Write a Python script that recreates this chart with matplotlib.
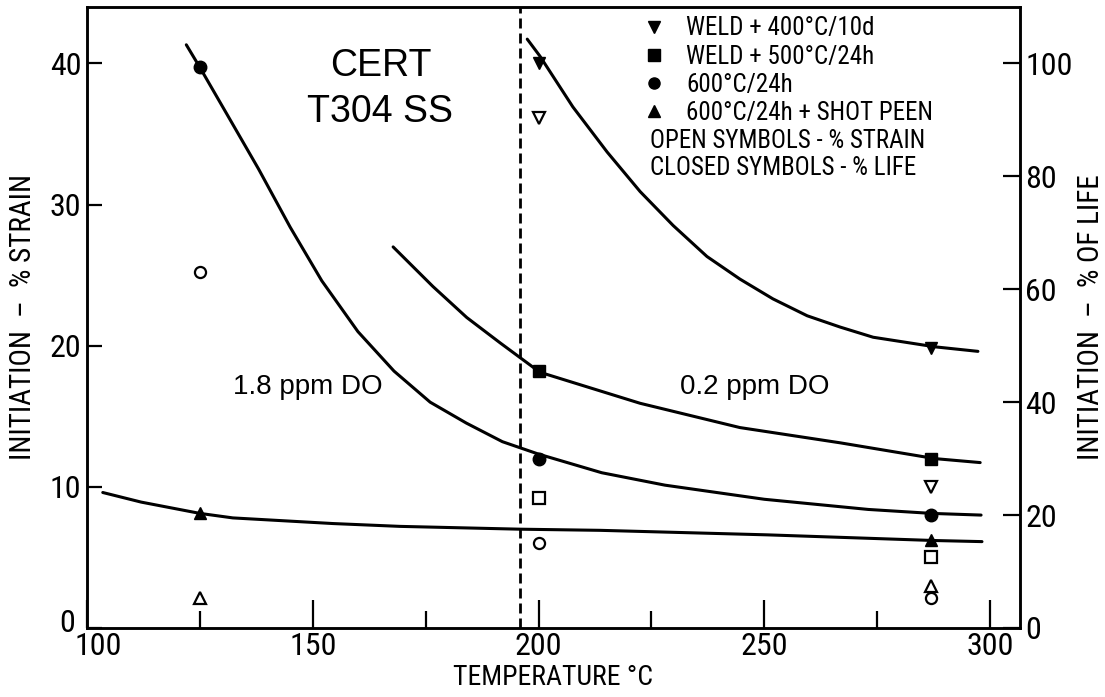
import numpy as np
import matplotlib
matplotlib.use("Agg")
import matplotlib.pyplot as plt
import matplotlib.font_manager as fm
import matplotlib.transforms as mtrans
from matplotlib.lines import Line2D
from matplotlib.ticker import MultipleLocator

# ---- data: closed symbols / curves are % of life (right scale), open symbols % strain (left scale)
T_w400_curve = [197.5, 200.3, 207.6, 215.2, 222.5, 229.8, 237.3, 244.6, 251.9, 259.5, 266.8, 274.1, 287.8, 297.3]
L_w400_curve = [104.3, 101.3, 92.3, 84.3, 77.3, 71.3, 65.8, 61.8, 58.3, 55.3, 53.3, 51.5, 49.8, 49.0]
T_w500_curve = [167.8, 176.6, 184.1, 191.5, 200.3, 222.5, 244.6, 266.8, 287.8, 297.8]
L_w500_curve = [67.5, 60.5, 55.0, 50.5, 45.3, 39.8, 35.5, 32.8, 30.0, 29.3]
T_600_curve = [122, 125, 131, 138, 145, 152, 160, 168, 176, 184, 192, 200, 214, 228, 250, 273, 287, 298]
L_600_curve = [103.3, 99.3, 91.0, 81.3, 71.0, 61.5, 52.5, 45.5, 40.0, 36.3, 33.0, 30.8, 27.5, 25.3, 22.8, 21.0, 20.3, 20.0]
T_peen_curve = [103.5, 112, 125, 132.3, 154.5, 169.3, 196, 213.6, 250.6, 287.4, 298.2]
L_peen_curve = [24.0, 22.3, 20.3, 19.5, 18.5, 18.0, 17.5, 17.3, 16.5, 15.5, 15.3]

# closed symbols (% life)
T_w400_life, L_w400 = [200, 287], [100.0, 49.6]
T_w500_life, L_w500 = [200, 287], [45.5, 30.0]
T_600_life, L_600 = [125, 200, 287], [99.3, 30.0, 20.0]
T_peen_life, L_peen = [125, 287], [20.3, 15.5]

# open symbols (% strain)
T_w400_str, S_w400 = [200, 287], [36.1, 10.0]
T_w500_str, S_w500 = [200, 287], [9.2, 5.0]
T_600_str, S_600 = [125, 200, 287], [25.2, 6.0, 2.1]
T_peen_str, S_peen = [125, 287], [2.1, 3.0]

legend_labels = ["WELD + 400°C/10d", "WELD + 500°C/24h", "600°C/24h", "600°C/24h + SHOT PEEN"]
legend_markers = ["v", "s", "o", "^"]


def _pick_font(candidates):
    names = {f.name for f in fm.fontManager.ttflist}
    for c in candidates:
        if c in names:
            return c
    return "DejaVu Sans"


letter_font = _pick_font(["Liberation Sans Narrow", "DejaVu Sans Condensed", "Roboto Condensed", "DejaVu Sans"])
narrow = letter_font != "DejaVu Sans"
helv_font = _pick_font(["Liberation Sans", "Arial", "DejaVu Sans"])

tick_fs = 23 if narrow else 16
leg_fs = 18 if narrow else 14
lab_fs = 21 if narrow else 16

plt.rcParams["font.family"] = [letter_font, "DejaVu Sans"]

fig = plt.figure(figsize=(11.05, 6.97), dpi=100)
ax = fig.add_axes([0.0787, 0.099, 0.8443, 0.891])
ax2 = ax.twinx()

ax.set_xlim(100, 306.6)
ax.set_ylim(0, 44)
ax2.set_ylim(0, 44 * 2.5)

lw = 2.2
for T, L in [(T_w400_curve, L_w400_curve), (T_w500_curve, L_w500_curve),
             (T_600_curve, L_600_curve), (T_peen_curve, L_peen_curve)]:
    ax2.plot(T, L, color="black", lw=lw, solid_joinstyle="round", solid_capstyle="round", zorder=3)

ax.axvline(196, color="black", lw=2, ls=(0, (3.6, 1.8)), zorder=2)

# closed symbols
for T, L, m, ms in [(T_w400_life, L_w400, "v", 9), (T_w500_life, L_w500, "s", 8),
                    (T_600_life, L_600, "o", 9), (T_peen_life, L_peen, "^", 9)]:
    ax2.plot(T, L, ls="none", marker=m, ms=ms, color="black", zorder=4)

# open symbols
for T, S, m in [(T_w400_str, S_w400, "v"), (T_w500_str, S_w500, "s"),
                (T_600_str, S_600, "o"), (T_peen_str, S_peen, "^")]:
    ax.plot(T, S, ls="none", marker=m, ms=8, mfc="white", mec="black", mew=1.6, zorder=4)

# ticks
ax.xaxis.set_major_locator(MultipleLocator(50))
ax.xaxis.set_minor_locator(MultipleLocator(25))
ax.yaxis.set_major_locator(MultipleLocator(10))
ax.yaxis.set_minor_locator(plt.NullLocator())
ax2.yaxis.set_major_locator(MultipleLocator(20))
ax.tick_params(axis="x", which="major", direction="in", length=20, width=1.6, labelsize=tick_fs, pad=3)
ax.tick_params(axis="x", which="minor", direction="in", length=12, width=1.6)
ax.tick_params(axis="y", direction="in", length=11, width=1.6, labelsize=tick_fs, pad=4)
ax2.tick_params(axis="y", direction="in", length=12, width=1.6, labelsize=tick_fs, pad=4)
for a in (ax, ax2):
    for s in a.spines.values():
        s.set_linewidth(1.8)

# nudge the "100" and the bottom "0" apart like the original lettering
fig.canvas.draw()
for lab in ax.get_xticklabels():
    if lab.get_text() == "100":
        lab.set_transform(lab.get_transform() + mtrans.ScaledTranslation(11 / 100, 0, fig.dpi_scale_trans))
for lab in ax.get_yticklabels():
    if lab.get_text() == "0":
        lab.set_transform(lab.get_transform() + mtrans.ScaledTranslation(-6 / 100, 7 / 100, fig.dpi_scale_trans))

ax.set_xlabel("TEMPERATURE °C", fontsize=lab_fs - 1, labelpad=2)
ax.set_ylabel("INITIATION  –  % STRAIN", fontsize=lab_fs)
ax2.set_ylabel("INITIATION  –  % OF LIFE", fontsize=lab_fs)
ax.yaxis.set_label_coords(-0.054, 0.5)
ax2.yaxis.set_label_coords(1.061, 0.5)

ax.text(165, 38.2, "CERT\nT304 SS", fontsize=27, family=helv_font, ha="center", va="center",
        linespacing=1.35)
ax.text(132.3, 17.1, "1.8 ppm DO", fontsize=20, family=helv_font, ha="left", va="center")
ax.text(231.3, 17.1, "0.2 ppm DO", fontsize=20, family=helv_font, ha="left", va="center")

handles = [Line2D([], [], ls="none", marker=m, ms=8, color="black") for m in legend_markers]
ax.legend(handles, legend_labels, loc="upper left", bbox_to_anchor=(0.594, 0.985), frameon=False,
          borderpad=0, handlelength=1.0, handletextpad=0.8, labelspacing=0.17, fontsize=leg_fs,
          borderaxespad=0)
ax.text(0.6034, 0.784, "OPEN SYMBOLS - % STRAIN", transform=ax.transAxes, fontsize=leg_fs, va="center")
ax.text(0.6034, 0.741, "CLOSED SYMBOLS - % LIFE", transform=ax.transAxes, fontsize=leg_fs, va="center")

fig.savefig("out.png", dpi=100)
